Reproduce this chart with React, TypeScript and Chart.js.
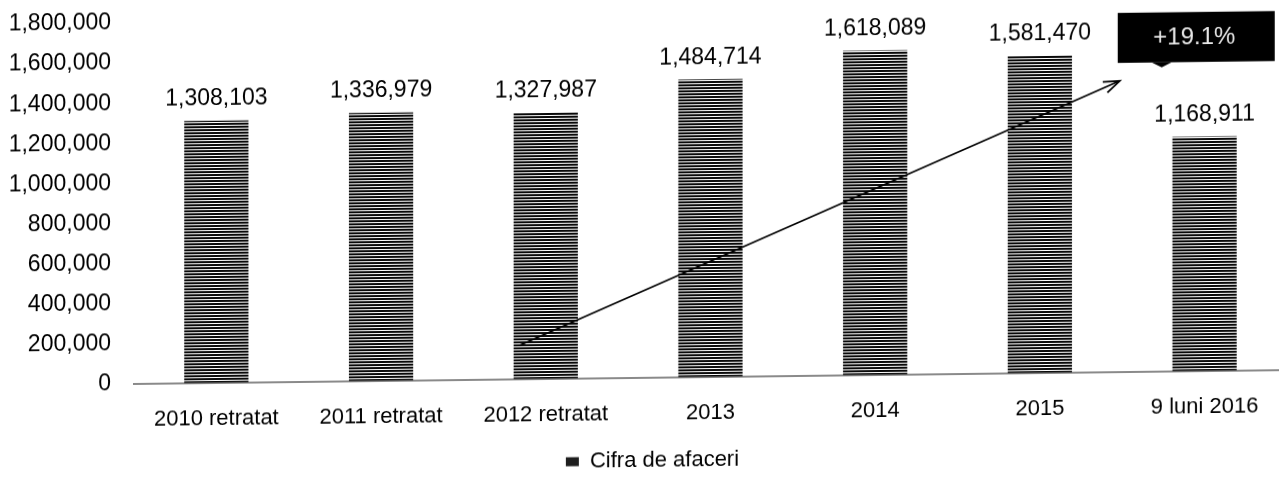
import React, { useEffect, useRef } from "react";
import { Chart, registerables } from "chart.js";

Chart.register(...registerables);

// ---- data ----
const categories = [
  "2010 retratat",
  "2011 retratat",
  "2012 retratat",
  "2013",
  "2014",
  "2015",
  "9 luni 2016",
];
const cifraDeAfaceri = [1308103, 1336979, 1327987, 1484714, 1618089, 1581470, 1168911];
const seriesName = "Cifra de afaceri";
const yMin = 0;
const yMax = 1800000;
const yStep = 200000;
const growthLabel = "+19.1%";
// growth arrow annotation, in data units (category index, value)
const arrowFrom = { x: 1.845, y: 171000 };
const arrowTo = { x: 5.485, y: 1452000 };

const FONT = "'Liberation Sans', Arial, sans-serif";
const fmt = (v: number) => v.toLocaleString("en-US");

const dataLabelsPlugin = {
  id: "dataLabels",
  afterDatasetsDraw(chart: any) {
    const ctx = chart.ctx;
    const meta = chart.getDatasetMeta(0);
    ctx.save();
    ctx.font = `23px ${FONT}`;
    ctx.fillStyle = "#000";
    ctx.textAlign = "center";
    ctx.textBaseline = "middle";
    meta.data.forEach((bar: any, i: number) => {
      ctx.fillText(fmt(cifraDeAfaceri[i]), bar.x, bar.y - 22);
    });
    ctx.restore();
  },
};

const growthArrowPlugin = {
  id: "growthArrow",
  afterDraw(chart: any) {
    const { ctx, scales } = chart;
    const x1 = scales.x.getPixelForValue(arrowFrom.x);
    const y1 = scales.y.getPixelForValue(arrowFrom.y);
    const x2 = scales.x.getPixelForValue(arrowTo.x);
    const y2 = scales.y.getPixelForValue(arrowTo.y);
    ctx.save();
    ctx.strokeStyle = "#000";
    ctx.lineWidth = 1.8;
    ctx.beginPath();
    ctx.moveTo(x1, y1);
    ctx.lineTo(x2, y2);
    ctx.stroke();
    const ang = Math.atan2(y2 - y1, x2 - x1);
    const head = 17;
    ctx.beginPath();
    ctx.moveTo(x2 + head * Math.cos(ang + Math.PI - 0.35), y2 + head * Math.sin(ang + Math.PI - 0.35));
    ctx.lineTo(x2, y2);
    ctx.lineTo(x2 + head * Math.cos(ang + Math.PI + 0.35), y2 + head * Math.sin(ang + Math.PI + 0.35));
    ctx.stroke();

    // label box
    const bx = x2 - 2;
    const by = y2 - 68;
    const bw = 157;
    const bh = 50;
    ctx.fillStyle = "#000";
    ctx.fillRect(bx, by, bw, bh);
    ctx.beginPath();
    ctx.moveTo(bx + 34, by + bh);
    ctx.lineTo(bx + 44, by + bh + 5);
    ctx.lineTo(bx + 54, by + bh);
    ctx.closePath();
    ctx.fill();
    ctx.fillStyle = "#e8e8e8";
    ctx.font = `24px ${FONT}`;
    ctx.textAlign = "center";
    ctx.textBaseline = "middle";
    ctx.fillText(growthLabel, bx + bw / 2 - 2, by + bh / 2 + 1);
    ctx.restore();
  },
};

export default function App() {
  const canvasRef = useRef<HTMLCanvasElement | null>(null);

  useEffect(() => {
    const canvas = canvasRef.current;
    if (!canvas) return;
    const ctx = canvas.getContext("2d")!;

    const pc = document.createElement("canvas");
    pc.width = 8;
    pc.height = 3;
    const pctx = pc.getContext("2d")!;
    pctx.fillStyle = "#ffffff";
    pctx.fillRect(0, 0, 8, 3);
    pctx.fillStyle = "#0a0a0a";
    pctx.fillRect(0, 0, 8, 2);
    const stripes = ctx.createPattern(pc, "repeat")!;

    const chart = new Chart(ctx, {
      type: "bar",
      data: {
        labels: categories,
        datasets: [
          {
            label: seriesName,
            data: cifraDeAfaceri,
            backgroundColor: stripes as any,
            borderWidth: 0,
            categoryPercentage: 1,
            barPercentage: 0.39,
          },
        ],
      },
      options: {
        animation: false,
        responsive: false,
        maintainAspectRatio: false,
        layout: { padding: { top: 22, left: 0, right: 0, bottom: 0 } },
        plugins: {
          legend: {
            display: true,
            position: "bottom",
            labels: {
              color: "#000",
              font: { size: 22, family: FONT },
              boxWidth: 13,
              boxHeight: 9,
              padding: 10,
              generateLabels: (chart: any) => {
                const items = Chart.defaults.plugins.legend.labels.generateLabels(chart);
                items.forEach((it: any) => {
                  it.fillStyle = "#1e1e1e";
                  it.strokeStyle = "#1e1e1e";
                  it.lineWidth = 0;
                });
                return items;
              },
            },
          },
          tooltip: { enabled: false },
        },
        scales: {
          x: {
            grid: { display: false, drawTicks: false },
            border: { display: true, color: "#8a8a8a", width: 2 },
            ticks: {
              color: "#000",
              font: { size: 22, family: FONT },
              padding: 23,
              maxRotation: 0,
              autoSkip: false,
            },
            afterFit: (s: any) => {
              s.height = 62;
            },
          },
          y: {
            min: yMin,
            max: yMax,
            grid: {
              display: true,
              drawOnChartArea: false,
              drawTicks: true,
              tickLength: 17,
              color: "rgba(0,0,0,0)",
            },
            border: { display: false },
            ticks: {
              stepSize: yStep,
              color: "#000",
              font: { size: 23, family: FONT },
              padding: 6,
              callback: (v: any) => fmt(Number(v)),
            },
            afterFit: (s: any) => {
              s.width = 134;
            },
          },
          yRightSpacer: {
            type: "linear",
            position: "right",
            display: true,
            grid: { display: false, drawTicks: false },
            border: { display: false },
            ticks: { display: false },
            afterFit: (s: any) => {
              s.width = 18;
            },
          },
        },
      },
      plugins: [dataLabelsPlugin, growthArrowPlugin],
    });

    return () => chart.destroy();
  }, []);

  return (
    <div
      style={{
        position: "fixed",
        left: 0,
        top: 0,
        width: 1279,
        height: 487,
        overflow: "hidden",
        background: "#fff",
      }}
    >
      <canvas
        ref={canvasRef}
        width={1305}
        height={487}
        style={{
          width: 1305,
          height: 487,
          display: "block",
          transform: "skewY(-0.69deg)",
          transformOrigin: "216px 0px",
        }}
      />
    </div>
  );
}
